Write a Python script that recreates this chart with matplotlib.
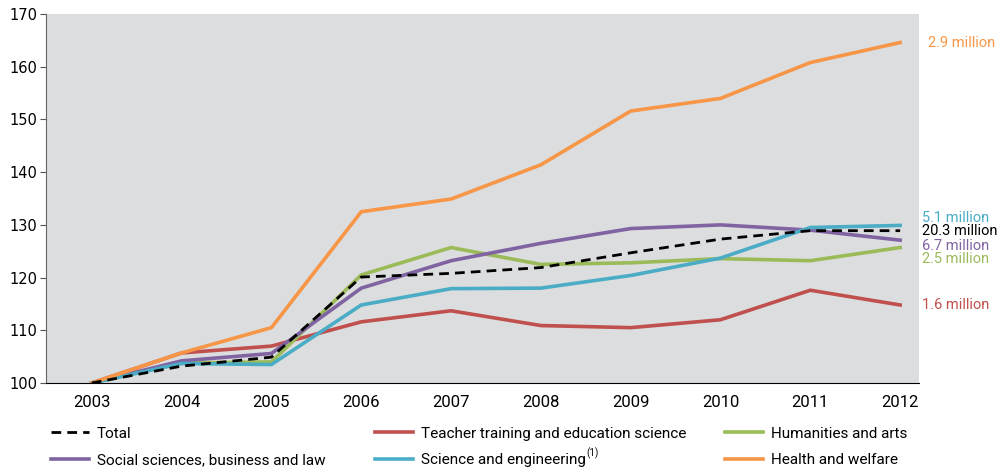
import matplotlib
matplotlib.use("Agg")
import matplotlib.pyplot as plt

plt.rcParams['font.family'] = ['Roboto', 'DejaVu Sans']

years = [2003, 2004, 2005, 2006, 2007, 2008, 2009, 2010, 2011, 2012]

total = [100, 103.2, 104.9, 120.1, 120.8, 121.9, 124.7, 127.3, 128.9, 128.9]
teacher = [100, 105.7, 107.0, 111.6, 113.7, 110.9, 110.5, 112.0, 117.6, 114.8]
humanities = [100, 103.8, 104.0, 120.5, 125.7, 122.5, 122.8, 123.6, 123.2, 125.7]
social = [100, 104.2, 105.6, 118.0, 123.2, 126.5, 129.3, 130.0, 129.0, 127.1]
science = [100, 103.7, 103.5, 114.8, 117.9, 118.0, 120.4, 123.7, 129.5, 129.9]
health = [100, 105.7, 110.5, 132.5, 134.9, 141.4, 151.6, 154.0, 160.8, 164.6]

end_labels = ["20.3 million", "1.6 million", "2.5 million",
              "6.7 million", "5.1 million", "2.9 million"]
label_y = [128.8, 114.8, 123.5, 125.9, 131.3, 164.5]

fig = plt.figure(figsize=(10, 4.69), dpi=100)
ax = fig.add_axes([0.046, 0.1834, 0.873, 0.7866])
ax.set_facecolor('#dcdddf')

c_red = '#c0504d'
c_green = '#9bbb59'
c_purple = '#8064a2'
c_cyan = '#4bacc6'
c_orange = '#f79646'

lw = 2.6
l_tea, = ax.plot(years, teacher, color=c_red, lw=lw, label='Teacher training and education science', zorder=1)
l_hum, = ax.plot(years, humanities, color=c_green, lw=lw, label='Humanities and arts', zorder=2)
l_soc, = ax.plot(years, social, color=c_purple, lw=lw, label='Social sciences, business and law', zorder=3)
l_sci, = ax.plot(years, science, color=c_cyan, lw=lw, label='Science and engineering', zorder=3)
l_hea, = ax.plot(years, health, color=c_orange, lw=lw, label='Health and welfare', zorder=4)
l_tot, = ax.plot(years, total, color='black', lw=2.0, ls=(0, (3.5, 2.2)), zorder=5, label='Total')

colors = ['black', c_red, c_green, c_purple, c_cyan, c_orange]
for i, (txt, y, c) in enumerate(zip(end_labels, label_y, colors)):
    x = 2012.31 if i == 5 else 2012.24
    ax.text(x, y, txt, color=c, fontsize=10.5, va='center', ha='left')

ax.set_xlim(2002.49, 2012.21)
ax.set_ylim(100, 170)
ax.set_xticks(years)
ax.set_yticks(range(100, 171, 10))
ax.tick_params(axis='x', length=0, labelsize=12, pad=9)
ax.tick_params(axis='y', length=4, labelsize=10.5, color='#555555', pad=2)
for t in ax.get_yticklabels():
    t.set_family('DejaVu Sans')
ax.spines['top'].set_visible(False)
ax.spines['right'].set_visible(False)
ax.spines['left'].set_color('#666666')
ax.spines['bottom'].set_color('black')

# one legend per entry, placed where the original has them
entries = [(l_tot, 0.040, 0.075), (l_soc, 0.040, 0.019),
           (l_tea, 0.364, 0.075), (l_sci, 0.364, 0.019),
           (l_hum, 0.714, 0.075), (l_hea, 0.714, 0.019)]
for h, x, y in entries:
    leg = fig.legend([h], [h.get_label()], loc='center left',
                     bbox_to_anchor=(x, y), frameon=False, fontsize=11,
                     handlelength=2.5, handletextpad=0.5, borderpad=0.2)
    if h is l_sci:
        sci_txt = leg.get_texts()[0]

fig.canvas.draw()
bb = sci_txt.get_window_extent().transformed(fig.transFigure.inverted())
fig.text(bb.x1 + 0.001, bb.y1 - 0.012, '(1)', fontsize=7, va='bottom', ha='left')

fig.savefig('out.png', dpi=100)
